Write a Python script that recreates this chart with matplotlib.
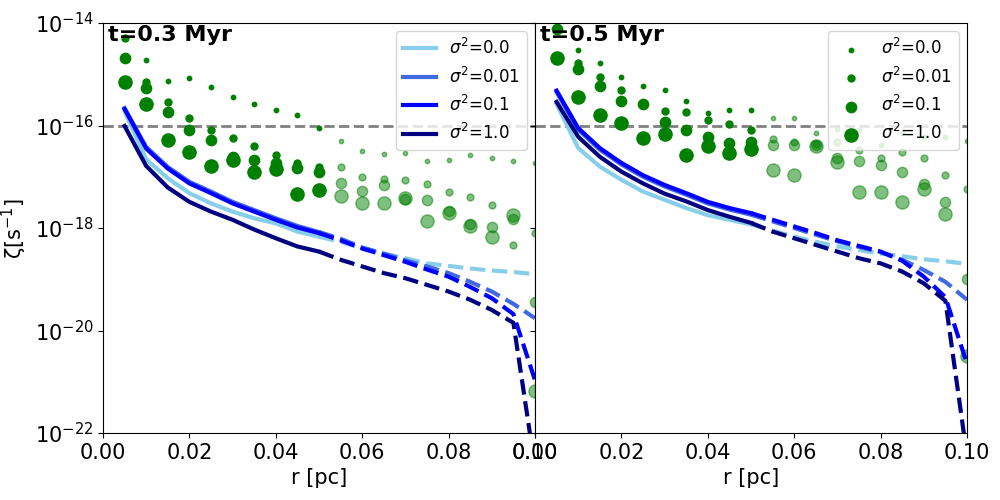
import numpy as np
import matplotlib
matplotlib.use("Agg")
from matplotlib import pyplot as plt
from matplotlib.ticker import NullLocator

# raio em pc
r = [0.005, 0.010, 0.015, 0.020, 0.025, 0.030, 0.035, 0.040, 0.045, 0.050,
     0.055, 0.060, 0.065, 0.070, 0.075, 0.080, 0.085, 0.090, 0.095, 0.100]

sigmas = ["0.0", "0.01", "0.1", "1.0"]
cores = ["skyblue", "royalblue", "blue", "navy"]
tamanhos = [10, 25, 55, 90]
tempos = ["t=0.3 Myr", "t=0.5 Myr"]

# log10 de zeta (linhas) - t=0.3 Myr
lin03_s00 = [-15.72, -16.66, -17.03, -17.32, -17.52, -17.68, -17.81, -17.91, -18.07, -18.17,
             -18.27, -18.40, -18.50, -18.59, -18.69, -18.74, -18.79, -18.83, -18.86, -18.90]
lin03_s001 = [-15.66, -16.42, -16.81, -17.10, -17.29, -17.49, -17.65, -17.81, -17.96, -18.08,
              -18.21, -18.38, -18.50, -18.63, -18.75, -18.88, -19.05, -19.24, -19.48, -19.76]
lin03_s01 = [-15.68, -16.45, -16.84, -17.13, -17.32, -17.52, -17.68, -17.84, -17.99, -18.10,
             -18.24, -18.40, -18.53, -18.66, -18.81, -18.95, -19.15, -19.37, -19.68, -20.97]
lin03_s1 = [-16.01, -16.79, -17.21, -17.49, -17.68, -17.84, -18.03, -18.20, -18.36, -18.46,
            -18.62, -18.75, -18.88, -18.98, -19.11, -19.24, -19.40, -19.60, -19.85, -22.67]

# log10 de zeta (linhas) - t=0.5 Myr
lin05_s00 = [-15.58, -16.44, -16.80, -17.06, -17.29, -17.45, -17.61, -17.75, -17.84, -17.93,
             -18.05, -18.17, -18.27, -18.36, -18.43, -18.50, -18.55, -18.61, -18.65, -18.70]
lin05_s001 = [-15.35, -16.08, -16.47, -16.76, -17.00, -17.19, -17.35, -17.52, -17.64, -17.74,
              -17.87, -18.00, -18.13, -18.26, -18.37, -18.47, -18.62, -18.82, -19.05, -19.40]
lin05_s01 = [-15.32, -16.05, -16.44, -16.73, -16.97, -17.16, -17.32, -17.49, -17.61, -17.71,
             -17.84, -17.97, -18.10, -18.24, -18.35, -18.46, -18.64, -18.95, -19.35, -20.65]
lin05_s1 = [-15.54, -16.22, -16.61, -16.90, -17.13, -17.33, -17.48, -17.65, -17.78, -17.90,
            -18.07, -18.20, -18.33, -18.46, -18.59, -18.69, -18.85, -19.08, -19.42, -22.45]

# log10 de zeta (pontos) - t=0.3 Myr
pts03_s00 = [-13.80, -14.72, -15.14, -15.08, -15.25, -15.45, -15.59, -15.70, -15.80, -16.04,
             -16.30, -16.50, -16.56, -16.54, -16.70, -16.67, -16.57, -16.64, -16.70, -16.74]
pts03_s001 = [-14.30, -15.16, -15.54, -15.86, -16.09, -16.25, -16.40, -16.58, -16.74, -16.80,
              -16.80, -17.01, -17.05, -17.07, -17.14, -17.30, -17.40, -17.56, -18.34, -18.10]
pts03_s01 = [-14.69, -15.27, -15.74, -16.09, -16.28, -16.62, -16.67, -16.74, -16.82, -16.90,
             -17.12, -17.27, -17.16, -17.43, -17.45, -17.66, -17.93, -17.98, -17.82, -19.44]
pts03_s1 = [-15.15, -15.58, -16.28, -16.51, -16.79, -16.67, -16.90, -16.85, -17.34, -17.26,
            -17.38, -17.52, -17.51, -17.41, -17.86, -17.70, -17.97, -18.18, -17.75, -21.19]

# log10 de zeta (pontos) - t=0.5 Myr
pts05_s00 = [-13.80, -14.53, -14.79, -15.06, -15.22, -15.31, -15.53, -15.76, -15.70, -15.70,
             -15.86, -15.86, -16.15, -16.06, -16.09, -16.38, -16.15, -16.22, -16.23, -16.30]
pts05_s001 = [-13.90, -14.79, -15.06, -15.31, -15.57, -15.72, -15.74, -15.89, -15.98, -16.09,
              -16.27, -16.32, -16.36, -16.32, -16.48, -16.64, -16.51, -16.64, -16.97, -17.24]
pts05_s01 = [-14.12, -14.90, -15.23, -15.53, -15.58, -15.93, -16.09, -16.23, -16.35, -16.33,
             -16.38, -16.38, -16.38, -16.64, -16.69, -16.78, -16.90, -17.15, -17.49, -19.00]
pts05_s1 = [-14.69, -15.45, -15.80, -15.95, -16.25, -16.17, -16.57, -16.40, -16.54, -16.46,
            -16.87, -16.97, -16.40, -16.71, -17.29, -17.29, -17.49, -17.23, -17.73, -20.50]

linhas = [[lin03_s00, lin03_s001, lin03_s01, lin03_s1],
          [lin05_s00, lin05_s001, lin05_s01, lin05_s1]]
pontos = [[pts03_s00, pts03_s001, pts03_s01, pts03_s1],
          [pts05_s00, pts05_s001, pts05_s01, pts05_s1]]

r = np.array(r)
corte = 9  # r = 0.05 pc

fig, axs = plt.subplots(1, 2, figsize=(10, 5), dpi=100, sharey=True)
plt.subplots_adjust(left=0.103, right=0.967, bottom=0.134, top=0.954, wspace=0)

for k, ax in enumerate(axs):
    ax.axhline(1e-16, color="gray", lw=2, ls="--", zorder=1)
    for i in range(4):
        z = 10.0 ** np.array(pontos[k][i])
        ax.scatter(r[:corte + 1], z[:corte + 1], s=tamanhos[i], color="green",
                   zorder=2, label=r"$\sigma^2$=" + sigmas[i])
        ax.scatter(r[corte + 1:], z[corte + 1:], s=tamanhos[i], color="green",
                   alpha=0.5, zorder=2)
    for i in range(4):
        z = 10.0 ** np.array(linhas[k][i])
        ax.plot(r[:corte + 1], z[:corte + 1], color=cores[i], lw=3, zorder=3,
                label=r"$\sigma^2$=" + sigmas[i])
        ax.plot(r[corte:], z[corte:], color=cores[i], lw=3, ls="--", zorder=3)

    ax.set_yscale("log")
    ax.set_xlim(0, 0.1)
    ax.set_ylim(1e-22, 1e-14)
    ax.set_yticks([1e-22, 1e-20, 1e-18, 1e-16, 1e-14])
    ax.yaxis.set_minor_locator(NullLocator())
    ax.set_xticks([0.0, 0.02, 0.04, 0.06, 0.08, 0.10])
    ax.tick_params(labelsize=15)
    ax.set_xlabel("r [pc]", fontsize=15)
    ax.text(0.012, 0.995, tempos[k], transform=ax.transAxes, fontsize=16,
            fontweight="bold", va="top", ha="left")

axs[0].set_ylabel(r"ζ[s$^{-1}$]", fontsize=15)

h, l = axs[0].get_legend_handles_labels()
axs[0].legend(h[4:], l[4:], loc="upper right", fontsize=12)
h, l = axs[1].get_legend_handles_labels()
axs[1].legend(h[:4], l[:4], loc="upper right", fontsize=12, scatterpoints=1)

plt.savefig("out.png")
